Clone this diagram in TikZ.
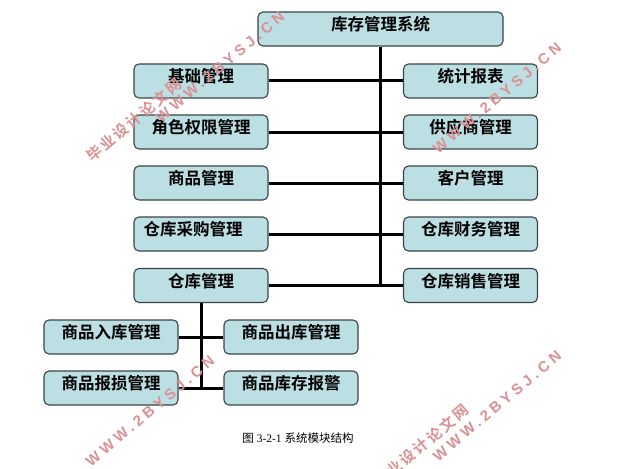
\documentclass[tikz,border=0pt]{standalone}
\usepackage{fontspec}
\setmainfont{Liberation Serif}
\newfontfamily\cjk[BoldFont={Noto Sans CJK SC Bold}]{Noto Sans CJK SC}
\newfontfamily\wmlatin[LetterSpace=26]{Liberation Sans Bold}
\newfontfamily\wmcjk[LetterSpace=15]{Noto Sans CJK SC Bold}
\newcommand{\boxtext}[1]{\raisebox{-1.5pt}[0pt][0pt]{#1}}
\definecolor{boxfill}{HTML}{BBDFE3}
\definecolor{boxline}{HTML}{3A4446}
\definecolor{wmred}{HTML}{DB9093}
\tikzset{
  modbox/.style={draw=boxline,line width=1.1pt,fill=boxfill,rounded corners=5pt,
    minimum width=134pt,minimum height=34pt,inner sep=0pt,anchor=center,
    font=\cjk\bfseries\fontsize{16.5}{16.5}\selectfont},
  topbox/.style={modbox,minimum width=245pt},
  link/.style={line width=3pt,black},
  wmurl/.style={text=wmred,rotate=40,inner sep=0pt,font=\wmlatin\fontsize{15}{15}\selectfont},
  wmname/.style={text=wmred,rotate=40,inner sep=0pt,font=\wmcjk\fontsize{15}{15}\selectfont},
  captiontext/.style={inner sep=0pt,font=\fontsize{11.5}{11.5}\selectfont}
}
\begin{document}
\begin{tikzpicture}[x=1pt,y=-1pt]
\useasboundingbox (0,0) rectangle (636,468);
\clip (0,0) rectangle (636,468);
\node[topbox] (top) at (380.5,29) {\boxtext{库存管理系统}};
\node[modbox] (l1) at (201,81) {\boxtext{基础管理}};
\node[modbox] (l2) at (201,132) {\boxtext{角色权限管理}};
\node[modbox] (l3) at (201,183) {\boxtext{商品管理}};
\node[modbox] (l4) at (201,234) {\boxtext{仓库采购管理\hspace{16pt}}};
\node[modbox] (l5) at (201,285.5) {\boxtext{仓库管理}};
\node[modbox] (r1) at (470.5,81) {\boxtext{统计报表}};
\node[modbox] (r2) at (470.5,132) {\boxtext{供应商管理}};
\node[modbox] (r3) at (470.5,183) {\boxtext{客户管理}};
\node[modbox] (r4) at (470.5,234) {\boxtext{仓库财务管理}};
\node[modbox] (r5) at (470.5,285.5) {\boxtext{仓库销售管理}};
\node[modbox] (s1) at (111,337) {\boxtext{商品入库管理}};
\node[modbox] (s2) at (291,337) {\boxtext{商品出库管理}};
\node[modbox] (s3) at (111,388) {\boxtext{商品报损管理}};
\node[modbox] (s4) at (291,388) {\boxtext{商品库存报警}};
\foreach \a/\b in {l1/r1,l2/r2,l3/r3,l4/r4,l5/r5,s1/s2,s3/s4}
  \draw[link] (\a.east) -- (\b.west);
\draw[link] (top.south) -- (top.south |- l5.east);
\draw[link] (l5.south) -- (l5.south |- s3.east);
\node[captiontext] (cap) at (298,438) {{\cjk 图} 3-2-1 {\cjk 系统模块结构}};
\node[wmname] (w1) at (134,120) {毕业设计论文网};
\node[wmurl] (u1) at (220,67) {WWW.2BYSJ.CN};
\node[wmurl] (u2) at (497,98) {WWW.2BYSJ.CN};
\node[wmurl] (u3) at (150,411) {WWW.2BYSJ.CN};
\node[wmname] (w2) at (421,446) {毕业设计论文网};
\node[wmurl] (u4) at (497,406) {WWW.2BYSJ.CN};
\end{tikzpicture}
\end{document}
